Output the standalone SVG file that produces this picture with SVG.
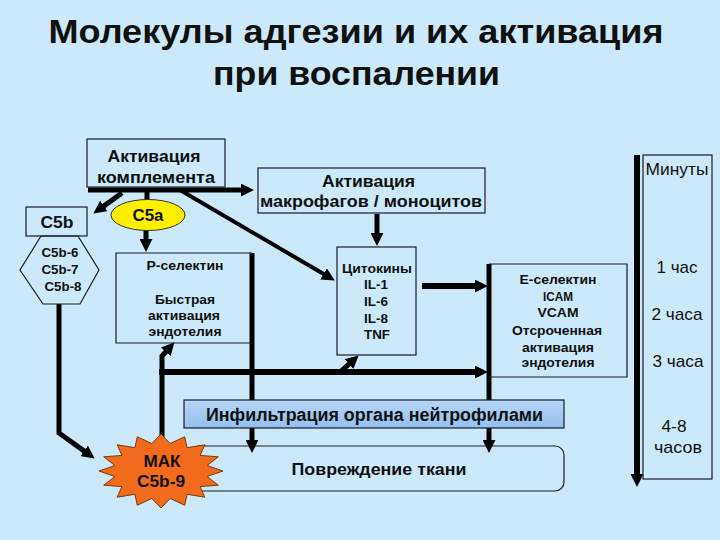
<svg xmlns="http://www.w3.org/2000/svg" width="720" height="540" viewBox="0 0 720 540">
<defs>
<style>
.t{font-family:"Liberation Sans",Arial,sans-serif;font-weight:bold;fill:#111;text-anchor:middle}
.r{font-family:"Liberation Sans",Arial,sans-serif;font-weight:normal;fill:#111;text-anchor:middle}
.box{fill:none;stroke:#1a1a2a;stroke-width:1.2}
.c{fill:none;stroke:#000;stroke-linejoin:miter}
</style>
<marker id="ah" viewBox="0 0 12 12" refX="1" refY="6" markerWidth="13" markerHeight="13" markerUnits="userSpaceOnUse" orient="auto">
<path d="M0,0 L12,6 L0,12 z" fill="#000"/>
</marker>
<linearGradient id="gInf" x1="0" y1="0" x2="0" y2="1">
<stop offset="0" stop-color="#B5D6F7"/>
<stop offset="1" stop-color="#92C0EF"/>
</linearGradient>
</defs>
<rect width="720" height="540" fill="#CCE9F9"/>

<g id="title">
<text class="t" x="356" y="43" font-size="33" textLength="615" lengthAdjust="spacingAndGlyphs">Молекулы адгезии и их активация</text>
<text class="t" x="356.5" y="85" font-size="33" textLength="287" lengthAdjust="spacingAndGlyphs">при воспалении</text>
</g>

<g id="connectors">
<line class="c" x1="88" y1="190" x2="242" y2="190" stroke-width="5" marker-end="url(#ah)"/>
<line class="c" x1="122" y1="193" x2="103" y2="206.6" stroke-width="5" marker-end="url(#ah)"/>
<line class="c" x1="147" y1="190" x2="147" y2="200" stroke-width="5"/>
<line class="c" x1="146" y1="230" x2="146" y2="240" stroke-width="5" marker-end="url(#ah)"/>
<line class="c" x1="180" y1="190" x2="324.5" y2="274.5" stroke-width="4" marker-end="url(#ah)"/>
<line class="c" x1="377" y1="214" x2="377" y2="234" stroke-width="5" marker-end="url(#ah)"/>
<line class="c" x1="422" y1="286" x2="476" y2="286" stroke-width="6" marker-end="url(#ah)"/>
<line class="c" x1="159" y1="372" x2="476" y2="372" stroke-width="6" marker-end="url(#ah)"/>
<line class="c" x1="340" y1="372" x2="349.8" y2="363.3" stroke-width="5" marker-end="url(#ah)"/>
<polyline class="c" points="162,437 162,356 166.5,351" stroke-width="5" marker-end="url(#ah)"/>
<polyline class="c" points="59,304 59,433 85,451.6" stroke-width="5" marker-end="url(#ah)"/>
<line class="c" x1="252" y1="253" x2="252" y2="441" stroke-width="5" marker-end="url(#ah)"/>
<line class="c" x1="489" y1="264" x2="489" y2="441" stroke-width="5" marker-end="url(#ah)"/>
<line class="c" x1="637" y1="155" x2="637" y2="475" stroke-width="6" marker-end="url(#ah)"/>
</g>

<g id="complement">
<rect class="box" x="87" y="139" width="138" height="48"/>
<text class="t" x="154" y="162" font-size="17" textLength="93" lengthAdjust="spacingAndGlyphs">Активация</text>
<text class="t" x="156" y="183" font-size="17" textLength="118" lengthAdjust="spacingAndGlyphs">комплемента</text>
</g>

<g id="c5b">
<rect class="box" x="26" y="207" width="61" height="29"/>
<text class="t" x="57" y="228" font-size="17" textLength="33" lengthAdjust="spacingAndGlyphs">C5b</text>
</g>

<g id="c5b678">
<polygon class="box" points="41,236 78,236 99,270 80,304 43,304 20,270"/>
<text class="t" x="60" y="257" font-size="13" textLength="37" lengthAdjust="spacingAndGlyphs">C5b-6</text>
<text class="t" x="60" y="274" font-size="13" textLength="37" lengthAdjust="spacingAndGlyphs">C5b-7</text>
<text class="t" x="63" y="291" font-size="13" textLength="37" lengthAdjust="spacingAndGlyphs">C5b-8</text>
</g>

<g id="c5a">
<ellipse cx="148" cy="215" rx="37" ry="15.5" fill="#FFF000" stroke="#333" stroke-width="1"/>
<text class="t" x="148" y="221" font-size="17" textLength="31" lengthAdjust="spacingAndGlyphs">C5a</text>
</g>

<g id="pselectin">
<polyline class="box" points="252,253 116,253 116,343 252,343"/>
<text class="t" x="185" y="270" font-size="12.5" textLength="77" lengthAdjust="spacingAndGlyphs">Р-селектин</text>
<text class="t" x="185" y="304" font-size="12.5" textLength="60" lengthAdjust="spacingAndGlyphs">Быстрая</text>
<text class="t" x="184" y="320" font-size="12.5" textLength="72" lengthAdjust="spacingAndGlyphs">активация</text>
<text class="t" x="185" y="336" font-size="12.5" textLength="73" lengthAdjust="spacingAndGlyphs">эндотелия</text>
</g>

<g id="macrophages">
<rect class="box" x="258" y="168" width="227" height="45"/>
<text class="t" x="368.5" y="187" font-size="17" textLength="93" lengthAdjust="spacingAndGlyphs">Активация</text>
<text class="t" x="371" y="207" font-size="17" textLength="222" lengthAdjust="spacingAndGlyphs">макрофагов / моноцитов</text>
</g>

<g id="cytokines">
<rect class="box" x="337" y="247" width="79" height="108"/>
<text class="t" x="377" y="273" font-size="12.5" textLength="70" lengthAdjust="spacingAndGlyphs">Цитокины</text>
<text class="t" x="376" y="289" font-size="12.5" textLength="24" lengthAdjust="spacingAndGlyphs">IL-1</text>
<text class="t" x="376" y="306" font-size="12.5" textLength="24" lengthAdjust="spacingAndGlyphs">IL-6</text>
<text class="t" x="376" y="323" font-size="12.5" textLength="24" lengthAdjust="spacingAndGlyphs">IL-8</text>
<text class="t" x="377" y="339" font-size="12.5" textLength="26" lengthAdjust="spacingAndGlyphs">TNF</text>
</g>

<g id="eselectin">
<polyline class="box" points="489,264 627,264 627,377 489,377"/>
<text class="t" x="558" y="284" font-size="12.5" textLength="77" lengthAdjust="spacingAndGlyphs">Е-селектин</text>
<text class="t" x="558" y="301" font-size="12.5" textLength="30" lengthAdjust="spacingAndGlyphs">ICAM</text>
<text class="t" x="558" y="317" font-size="12.5" textLength="41" lengthAdjust="spacingAndGlyphs">VCAM</text>
<text class="t" x="557" y="335" font-size="12.5" textLength="90" lengthAdjust="spacingAndGlyphs">Отсроченная</text>
<text class="t" x="558" y="352" font-size="12.5" textLength="72" lengthAdjust="spacingAndGlyphs">активация</text>
<text class="t" x="558" y="367" font-size="12.5" textLength="73" lengthAdjust="spacingAndGlyphs">эндотелия</text>
</g>

<g id="timeline">
<rect class="box" x="643" y="155" width="69" height="324"/>
<text class="r" x="677" y="175" font-size="17" textLength="63" lengthAdjust="spacingAndGlyphs">Минуты</text>
<text class="r" x="677" y="273" font-size="17" textLength="41" lengthAdjust="spacingAndGlyphs">1 час</text>
<text class="r" x="677" y="320" font-size="17" textLength="51" lengthAdjust="spacingAndGlyphs">2 часа</text>
<text class="r" x="678" y="367" font-size="17" textLength="51" lengthAdjust="spacingAndGlyphs">3 часа</text>
<text class="r" x="674" y="432" font-size="17" textLength="25" lengthAdjust="spacingAndGlyphs">4-8</text>
<text class="r" x="678" y="453" font-size="17" textLength="48" lengthAdjust="spacingAndGlyphs">часов</text>
</g>

<g id="infiltration">
<rect x="184" y="400" width="380" height="28" fill="url(#gInf)" stroke="#1a1a2a" stroke-width="1.2"/>
<text class="t" x="374.5" y="421" font-size="18" textLength="337" lengthAdjust="spacingAndGlyphs">Инфильтрация органа нейтрофилами</text>
</g>

<g id="damage">
<rect class="box" x="190" y="446" width="374" height="45" rx="9"/>
<text class="t" x="379" y="475" font-size="17" textLength="175" lengthAdjust="spacingAndGlyphs">Повреждение ткани</text>
</g>

<g id="mac">
<polygon fill="#F26B1D" stroke="#7a3a10" stroke-width="1" points="161,434 170.2,443.5 184.7,436.8 187.1,447.7 204.8,444.8 200.1,455.4 218.3,456.8 207.1,465.5 223,471 207.1,476.5 218.3,485.2 200.1,486.6 204.8,497.2 187.1,494.3 184.7,505.2 170.2,498.5 161,508 151.8,498.5 137.3,505.2 134.9,494.3 117.2,497.2 121.9,486.6 103.7,485.2 114.9,476.5 99,471 114.9,465.5 103.7,456.8 121.9,455.4 117.2,444.8 134.9,447.7 137.3,436.8 151.8,443.5"/>
<text class="t" x="162" y="467" font-size="17" fill="#222" textLength="37" lengthAdjust="spacingAndGlyphs">МАК</text>
<text class="t" x="161" y="487" font-size="17" fill="#222" textLength="48" lengthAdjust="spacingAndGlyphs">C5b-9</text>
</g>
</svg>
